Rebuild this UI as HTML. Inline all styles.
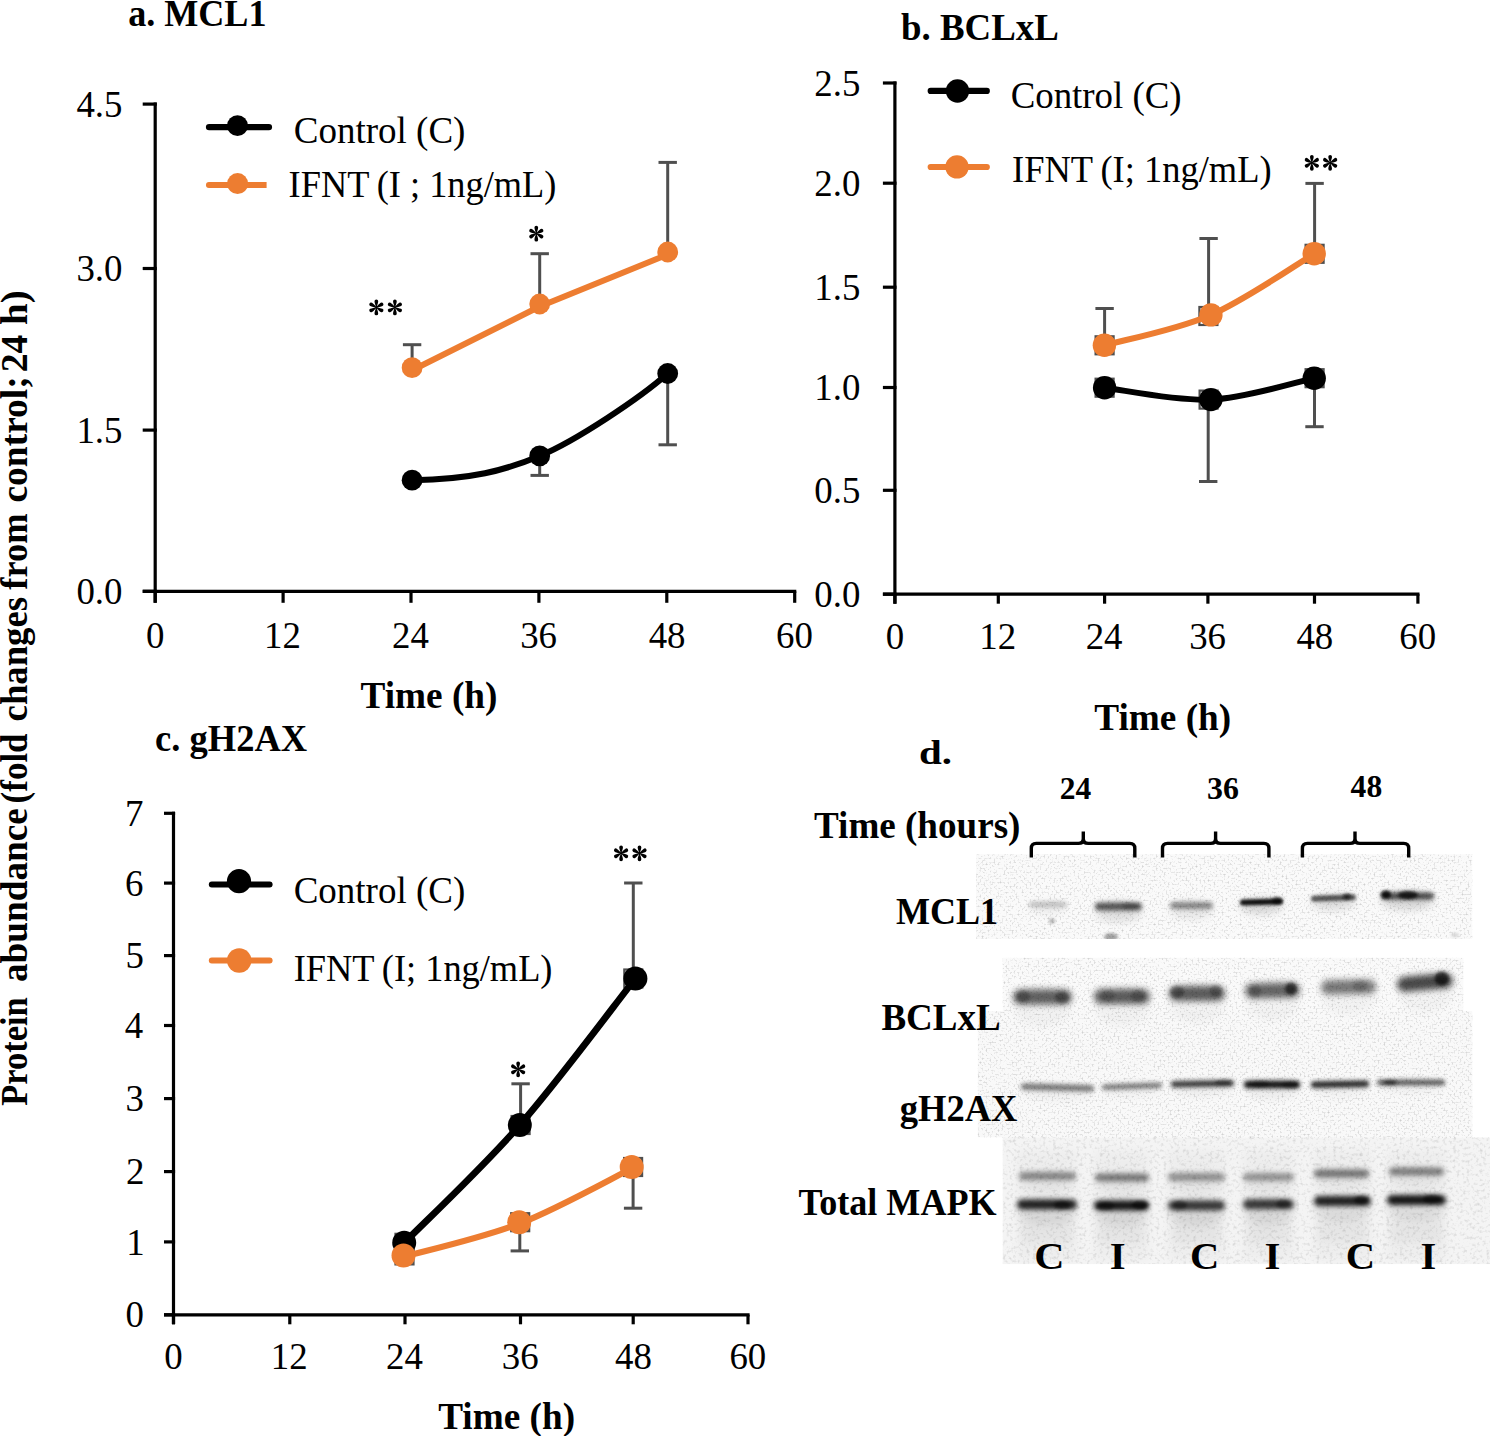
<!DOCTYPE html>
<html><head><meta charset="utf-8"><style>
html,body{margin:0;padding:0;background:#fff;}
svg{display:block;}
text{font-family:"Liberation Serif",serif;}
</style></head><body>
<svg width="1490" height="1436" viewBox="0 0 1490 1436">
<defs><filter id="nz" x="970" y="850" width="520" height="288" filterUnits="userSpaceOnUse"><feTurbulence type="fractalNoise" baseFrequency="0.5" numOctaves="2" seed="7"/><feColorMatrix type="matrix" values="0 0 0 0 0  0 0 0 0 0  0 0 0 0 0  0.5 0 0 0 -0.25"/></filter><filter id="nz2" x="1000" y="1137" width="490" height="130" filterUnits="userSpaceOnUse"><feTurbulence type="fractalNoise" baseFrequency="0.3" numOctaves="2" seed="11"/><feColorMatrix type="matrix" values="0 0 0 0 0  0 0 0 0 0  0 0 0 0 0  0.3 0 0 0 -0.15"/></filter><filter id="g10" x="-50%" y="-300%" width="200%" height="700%"><feGaussianBlur stdDeviation="1.0"/></filter><filter id="g12" x="-50%" y="-300%" width="200%" height="700%"><feGaussianBlur stdDeviation="1.2"/></filter><filter id="g14" x="-50%" y="-300%" width="200%" height="700%"><feGaussianBlur stdDeviation="1.4"/></filter><filter id="g15" x="-50%" y="-300%" width="200%" height="700%"><feGaussianBlur stdDeviation="1.5"/></filter><filter id="g16" x="-50%" y="-300%" width="200%" height="700%"><feGaussianBlur stdDeviation="1.6"/></filter><filter id="g18" x="-50%" y="-300%" width="200%" height="700%"><feGaussianBlur stdDeviation="1.8"/></filter><filter id="g20" x="-50%" y="-300%" width="200%" height="700%"><feGaussianBlur stdDeviation="2.0"/></filter><filter id="g22" x="-50%" y="-300%" width="200%" height="700%"><feGaussianBlur stdDeviation="2.2"/></filter><filter id="g24" x="-50%" y="-300%" width="200%" height="700%"><feGaussianBlur stdDeviation="2.4"/></filter><filter id="g26" x="-50%" y="-300%" width="200%" height="700%"><feGaussianBlur stdDeviation="2.6"/></filter><filter id="g28" x="-50%" y="-300%" width="200%" height="700%"><feGaussianBlur stdDeviation="2.8"/></filter><filter id="g30" x="-50%" y="-300%" width="200%" height="700%"><feGaussianBlur stdDeviation="3.0"/></filter><filter id="g33" x="-50%" y="-300%" width="200%" height="700%"><feGaussianBlur stdDeviation="3.3"/></filter><filter id="g40" x="-50%" y="-300%" width="200%" height="700%"><feGaussianBlur stdDeviation="4.0"/></filter><filter id="g50" x="-50%" y="-300%" width="200%" height="700%"><feGaussianBlur stdDeviation="5.0"/></filter></defs>
<rect width="1490" height="1436" fill="#fff"/>
<g id="blot"><rect x="976" y="854.2" width="496.3" height="84.7" fill="#fafafa"/><rect x="1002.7" y="957.8" width="460.7" height="55.1" fill="#fafafa"/><rect x="977.8" y="1011.1" width="494.5" height="126.3" fill="#f9f9f9"/><rect x="1002.7" y="1137.5" width="487.3" height="126.6" fill="#f4f4f4"/><clipPath id="blotclip"><rect x="976" y="854.2" width="496.3" height="84.7"/><rect x="1002.7" y="957.8" width="460.7" height="55.1"/><rect x="977.8" y="1011.1" width="494.5" height="126.3"/><rect x="1002.7" y="1137.5" width="487.3" height="126.6"/></clipPath><g clip-path="url(#blotclip)"><rect x="1017" y="1150" width="60" height="110" fill="#000" opacity="0.025" filter="url(#g50)"/><rect x="1021" y="1215" width="52" height="28" fill="#000" opacity="0.03" filter="url(#g40)"/><rect x="1094" y="1150" width="55" height="110" fill="#000" opacity="0.025" filter="url(#g50)"/><rect x="1098" y="1215" width="47" height="28" fill="#000" opacity="0.03" filter="url(#g40)"/><rect x="1168" y="1150" width="57" height="110" fill="#000" opacity="0.025" filter="url(#g50)"/><rect x="1172" y="1215" width="49" height="28" fill="#000" opacity="0.03" filter="url(#g40)"/><rect x="1243" y="1150" width="51" height="110" fill="#000" opacity="0.025" filter="url(#g50)"/><rect x="1247" y="1215" width="43" height="28" fill="#000" opacity="0.03" filter="url(#g40)"/><rect x="1314" y="1150" width="57" height="110" fill="#000" opacity="0.025" filter="url(#g50)"/><rect x="1318" y="1215" width="49" height="28" fill="#000" opacity="0.03" filter="url(#g40)"/><rect x="1387" y="1150" width="59" height="110" fill="#000" opacity="0.025" filter="url(#g50)"/><rect x="1391" y="1215" width="51" height="28" fill="#000" opacity="0.03" filter="url(#g40)"/><g><ellipse cx="1048.0" cy="907.6" rx="19.0" ry="6.8" fill="#000" opacity="0.05" filter="url(#g40)"/><rect x="1029.0" y="902.0" width="38.0" height="5.0" rx="2.5" fill="#000" opacity="0.22" filter="url(#g20)"/></g><g><ellipse cx="1118.5" cy="911.5" rx="23.5" ry="10.8" fill="#000" opacity="0.1" filter="url(#g40)"/><rect x="1095.0" y="902.5" width="47.0" height="8.0" rx="4.0" fill="#000" opacity="0.62" filter="url(#g20)"/><ellipse cx="1130.0" cy="906.0" rx="8" ry="3" fill="#000" opacity="0.2" filter="url(#g15)"/></g><g><ellipse cx="1191.5" cy="909.9" rx="21.5" ry="9.4" fill="#000" opacity="0.08" filter="url(#g40)"/><rect x="1170.0" y="902.0" width="43.0" height="7.0" rx="3.5" fill="#000" opacity="0.42" filter="url(#g20)"/></g><g transform="rotate(-1.5 1261.5 902.0)"><ellipse cx="1261.5" cy="905.8" rx="21.5" ry="8.1" fill="#000" opacity="0.14" filter="url(#g40)"/><rect x="1240.0" y="899.0" width="43.0" height="6.0" rx="3.0" fill="#000" opacity="0.92" filter="url(#g16)"/><ellipse cx="1277.0" cy="901.0" rx="5" ry="3.5" fill="#000" opacity="0.6" filter="url(#g15)"/></g><g transform="rotate(-2 1333.5 898.0)"><ellipse cx="1333.5" cy="901.8" rx="22.5" ry="8.1" fill="#000" opacity="0.12" filter="url(#g40)"/><rect x="1311.0" y="895.0" width="45.0" height="6.0" rx="3.0" fill="#000" opacity="0.62" filter="url(#g18)"/><ellipse cx="1347.0" cy="897.0" rx="4" ry="3" fill="#000" opacity="0.6" filter="url(#g15)"/></g><g><ellipse cx="1407.5" cy="900.4" rx="26.5" ry="9.4" fill="#000" opacity="0.14" filter="url(#g40)"/><rect x="1381.0" y="892.5" width="53.0" height="7.0" rx="3.5" fill="#000" opacity="0.68" filter="url(#g20)"/><ellipse cx="1386.0" cy="894.5" rx="5" ry="4" fill="#000" opacity="0.85" filter="url(#g15)"/><ellipse cx="1408.0" cy="895.0" rx="10" ry="4" fill="#000" opacity="0.75" filter="url(#g15)"/></g><g><ellipse cx="1042.5" cy="1006.5" rx="29.5" ry="20.2" fill="#000" opacity="0.03" filter="url(#g40)"/><rect x="1013.0" y="989.5" width="59.0" height="15.0" rx="7.5" fill="#000" opacity="0.6" filter="url(#g33)"/><ellipse cx="1023.0" cy="996.5" rx="7" ry="6" fill="#000" opacity="0.25" filter="url(#g15)"/><ellipse cx="1062.0" cy="997.5" rx="7" ry="6" fill="#000" opacity="0.3" filter="url(#g15)"/></g><g><ellipse cx="1122.0" cy="1006.0" rx="28.0" ry="20.2" fill="#000" opacity="0.03" filter="url(#g40)"/><rect x="1094.0" y="989.0" width="56.0" height="15.0" rx="7.5" fill="#000" opacity="0.62" filter="url(#g33)"/><ellipse cx="1108.0" cy="996.0" rx="7" ry="6" fill="#000" opacity="0.15" filter="url(#g15)"/><ellipse cx="1138.0" cy="996.0" rx="7" ry="6" fill="#000" opacity="0.2" filter="url(#g15)"/></g><g><ellipse cx="1197.0" cy="1003.0" rx="28.0" ry="20.2" fill="#000" opacity="0.03" filter="url(#g40)"/><rect x="1169.0" y="986.0" width="56.0" height="15.0" rx="7.5" fill="#000" opacity="0.62" filter="url(#g33)"/><ellipse cx="1177.0" cy="992.0" rx="7" ry="6" fill="#000" opacity="0.3" filter="url(#g15)"/><ellipse cx="1216.0" cy="991.0" rx="6" ry="6" fill="#000" opacity="0.25" filter="url(#g15)"/></g><g transform="rotate(-1 1272.5 990.5)"><ellipse cx="1272.5" cy="1000.0" rx="27.5" ry="20.2" fill="#000" opacity="0.03" filter="url(#g40)"/><rect x="1245.0" y="983.0" width="55.0" height="15.0" rx="7.5" fill="#000" opacity="0.58" filter="url(#g33)"/><ellipse cx="1291.0" cy="989.0" rx="6" ry="6" fill="#000" opacity="0.6" filter="url(#g15)"/><ellipse cx="1255.0" cy="991.0" rx="6" ry="6" fill="#000" opacity="0.2" filter="url(#g15)"/></g><g transform="rotate(-1 1348.5 987.0)"><ellipse cx="1348.5" cy="995.8" rx="27.5" ry="18.9" fill="#000" opacity="0.03" filter="url(#g40)"/><rect x="1321.0" y="980.0" width="55.0" height="14.0" rx="7.0" fill="#000" opacity="0.5" filter="url(#g33)"/><ellipse cx="1360.0" cy="986.0" rx="7" ry="6" fill="#000" opacity="0.15" filter="url(#g15)"/></g><g transform="rotate(-5 1425.0 982.5)"><ellipse cx="1425.0" cy="992.0" rx="28.0" ry="20.2" fill="#000" opacity="0.03" filter="url(#g40)"/><rect x="1397.0" y="975.0" width="56.0" height="15.0" rx="7.5" fill="#000" opacity="0.7" filter="url(#g33)"/><ellipse cx="1442.0" cy="980.0" rx="7" ry="7" fill="#000" opacity="0.65" filter="url(#g15)"/></g><g transform="rotate(1.5 1057.5 1087.5)"><ellipse cx="1057.5" cy="1091.6" rx="36.5" ry="8.8" fill="#000" opacity="0.04" filter="url(#g40)"/><rect x="1021.0" y="1084.2" width="73.0" height="6.5" rx="3.2" fill="#000" opacity="0.5" filter="url(#g22)"/></g><g transform="rotate(-2 1132.0 1086.2)"><ellipse cx="1132.0" cy="1089.7" rx="30.0" ry="7.4" fill="#000" opacity="0.04" filter="url(#g40)"/><rect x="1102.0" y="1083.5" width="60.0" height="5.5" rx="2.8" fill="#000" opacity="0.5" filter="url(#g22)"/></g><g transform="rotate(-1 1202.5 1083.8)"><ellipse cx="1202.5" cy="1087.6" rx="31.5" ry="8.1" fill="#000" opacity="0.05" filter="url(#g40)"/><rect x="1171.0" y="1080.8" width="63.0" height="6.0" rx="3.0" fill="#000" opacity="0.8" filter="url(#g20)"/><ellipse cx="1223.0" cy="1083.0" rx="8" ry="2.5" fill="#000" opacity="0.35" filter="url(#g15)"/></g><g><ellipse cx="1272.0" cy="1089.2" rx="28.0" ry="10.1" fill="#000" opacity="0.05" filter="url(#g40)"/><rect x="1244.0" y="1080.8" width="56.0" height="7.5" rx="3.8" fill="#000" opacity="0.92" filter="url(#g20)"/><ellipse cx="1260.0" cy="1084.0" rx="9" ry="3" fill="#000" opacity="0.3" filter="url(#g15)"/><ellipse cx="1290.0" cy="1085.0" rx="8" ry="3" fill="#000" opacity="0.3" filter="url(#g15)"/></g><g transform="rotate(-1 1340.0 1084.2)"><ellipse cx="1340.0" cy="1088.3" rx="29.0" ry="8.8" fill="#000" opacity="0.04" filter="url(#g40)"/><rect x="1311.0" y="1081.0" width="58.0" height="6.5" rx="3.2" fill="#000" opacity="0.85" filter="url(#g20)"/></g><g><ellipse cx="1411.0" cy="1086.0" rx="34.0" ry="7.4" fill="#000" opacity="0.04" filter="url(#g40)"/><rect x="1377.0" y="1079.8" width="68.0" height="5.5" rx="2.8" fill="#000" opacity="0.65" filter="url(#g20)"/><ellipse cx="1390.0" cy="1082.5" rx="7" ry="2.5" fill="#000" opacity="0.5" filter="url(#g15)"/></g><g><ellipse cx="1047.5" cy="1181.0" rx="28.5" ry="10.8" fill="#000" opacity="0.04" filter="url(#g40)"/><rect x="1019.0" y="1172.0" width="57.0" height="8.0" rx="4.0" fill="#000" opacity="0.42" filter="url(#g26)"/></g><g><ellipse cx="1122.0" cy="1182.6" rx="27.0" ry="10.8" fill="#000" opacity="0.04" filter="url(#g40)"/><rect x="1095.0" y="1173.6" width="54.0" height="8.0" rx="4.0" fill="#000" opacity="0.48" filter="url(#g26)"/></g><g><ellipse cx="1196.5" cy="1182.0" rx="28.5" ry="10.8" fill="#000" opacity="0.04" filter="url(#g40)"/><rect x="1168.0" y="1173.0" width="57.0" height="8.0" rx="4.0" fill="#000" opacity="0.38" filter="url(#g26)"/></g><g><ellipse cx="1268.5" cy="1182.0" rx="25.5" ry="10.8" fill="#000" opacity="0.04" filter="url(#g40)"/><rect x="1243.0" y="1173.0" width="51.0" height="8.0" rx="4.0" fill="#000" opacity="0.36" filter="url(#g26)"/></g><g><ellipse cx="1341.5" cy="1178.4" rx="27.5" ry="10.8" fill="#000" opacity="0.04" filter="url(#g40)"/><rect x="1314.0" y="1169.4" width="55.0" height="8.0" rx="4.0" fill="#000" opacity="0.5" filter="url(#g26)"/></g><g><ellipse cx="1416.5" cy="1176.6" rx="27.5" ry="10.8" fill="#000" opacity="0.04" filter="url(#g40)"/><rect x="1389.0" y="1167.6" width="55.0" height="8.0" rx="4.0" fill="#000" opacity="0.46" filter="url(#g26)"/></g><g><ellipse cx="1047.0" cy="1210.8" rx="30.0" ry="13.5" fill="#000" opacity="0.07" filter="url(#g40)"/><rect x="1017.0" y="1199.5" width="60.0" height="10.0" rx="5.0" fill="#000" opacity="0.85" filter="url(#g26)"/><ellipse cx="1062.0" cy="1205.0" rx="8" ry="4" fill="#000" opacity="0.5" filter="url(#g15)"/></g><g><ellipse cx="1121.5" cy="1211.7" rx="27.5" ry="13.5" fill="#000" opacity="0.07" filter="url(#g40)"/><rect x="1094.0" y="1200.4" width="55.0" height="10.0" rx="5.0" fill="#000" opacity="0.9" filter="url(#g26)"/><ellipse cx="1106.0" cy="1206.0" rx="8" ry="4" fill="#000" opacity="0.4" filter="url(#g15)"/><ellipse cx="1140.0" cy="1205.0" rx="8" ry="4" fill="#000" opacity="0.5" filter="url(#g15)"/></g><g><ellipse cx="1196.5" cy="1211.7" rx="28.5" ry="13.5" fill="#000" opacity="0.07" filter="url(#g40)"/><rect x="1168.0" y="1200.4" width="57.0" height="10.0" rx="5.0" fill="#000" opacity="0.75" filter="url(#g26)"/><ellipse cx="1180.0" cy="1205.0" rx="7" ry="4" fill="#000" opacity="0.4" filter="url(#g15)"/></g><g><ellipse cx="1268.5" cy="1210.6" rx="25.5" ry="13.5" fill="#000" opacity="0.07" filter="url(#g40)"/><rect x="1243.0" y="1199.3" width="51.0" height="10.0" rx="5.0" fill="#000" opacity="0.75" filter="url(#g26)"/><ellipse cx="1283.0" cy="1204.0" rx="7" ry="4" fill="#000" opacity="0.4" filter="url(#g15)"/></g><g><ellipse cx="1342.5" cy="1207.4" rx="28.5" ry="13.5" fill="#000" opacity="0.07" filter="url(#g40)"/><rect x="1314.0" y="1196.1" width="57.0" height="10.0" rx="5.0" fill="#000" opacity="0.85" filter="url(#g26)"/><ellipse cx="1361.0" cy="1200.0" rx="7" ry="4" fill="#000" opacity="0.5" filter="url(#g15)"/></g><g><ellipse cx="1416.5" cy="1206.3" rx="29.5" ry="13.5" fill="#000" opacity="0.07" filter="url(#g40)"/><rect x="1387.0" y="1195.0" width="59.0" height="10.0" rx="5.0" fill="#000" opacity="0.9" filter="url(#g26)"/><ellipse cx="1432.0" cy="1199.0" rx="9" ry="4" fill="#000" opacity="0.5" filter="url(#g15)"/></g><ellipse cx="1052" cy="921" rx="3" ry="2.5" fill="#000" opacity="0.3" filter="url(#g15)"/><ellipse cx="1111" cy="937" rx="7" ry="4" fill="#000" opacity="0.35" filter="url(#g15)"/><ellipse cx="1455" cy="935" rx="4" ry="2" fill="#000" opacity="0.15" filter="url(#g15)"/><rect x="970" y="850" width="520" height="288" fill="#000" filter="url(#nz)"/><rect x="1000" y="1137" width="490" height="130" fill="#000" filter="url(#nz2)"/></g><path d="M1031.3,857.5 L1031.3,848.4 Q1031.3,843.4 1036.3,843.4 L1078.3,843.4 Q1083.3,843.4 1083.3,838.4 L1083.3,831.5 M1083.3,838.4 Q1083.3,843.4 1088.3,843.4 L1129.8,843.4 Q1134.8,843.4 1134.8,848.4 L1134.8,857.5" fill="none" stroke="#000" stroke-width="3.4"/><path d="M1162.5,857.5 L1162.5,848.4 Q1162.5,843.4 1167.5,843.4 L1210.6,843.4 Q1215.6,843.4 1215.6,838.4 L1215.6,831.5 M1215.6,838.4 Q1215.6,843.4 1220.6,843.4 L1263.9,843.4 Q1268.9,843.4 1268.9,848.4 L1268.9,857.5" fill="none" stroke="#000" stroke-width="3.4"/><path d="M1302.4,857.5 L1302.4,848.4 Q1302.4,843.4 1307.4,843.4 L1350.0,843.4 Q1355.0,843.4 1355.0,838.4 L1355.0,831.5 M1355.0,838.4 Q1355.0,843.4 1360.0,843.4 L1403.7,843.4 Q1408.7,843.4 1408.7,848.4 L1408.7,857.5" fill="none" stroke="#000" stroke-width="3.4"/></g>
<g id="charts"><line x1="155.20" y1="102.50" x2="155.20" y2="602.80" stroke="#000" stroke-width="3.2" stroke-linecap="butt"/><line x1="142.70" y1="104.10" x2="156.80" y2="104.10" stroke="#000" stroke-width="3.2" stroke-linecap="butt"/><line x1="142.70" y1="268.50" x2="156.80" y2="268.50" stroke="#000" stroke-width="3.2" stroke-linecap="butt"/><line x1="142.70" y1="430.10" x2="156.80" y2="430.10" stroke="#000" stroke-width="3.2" stroke-linecap="butt"/><line x1="142.70" y1="591.30" x2="156.80" y2="591.30" stroke="#000" stroke-width="3.2" stroke-linecap="butt"/><line x1="142.70" y1="591.30" x2="796.30" y2="591.30" stroke="#000" stroke-width="3.2" stroke-linecap="butt"/><line x1="155.20" y1="591.30" x2="155.20" y2="602.80" stroke="#000" stroke-width="3.2" stroke-linecap="butt"/><line x1="283.10" y1="591.30" x2="283.10" y2="602.80" stroke="#000" stroke-width="3.2" stroke-linecap="butt"/><line x1="411.00" y1="591.30" x2="411.00" y2="602.80" stroke="#000" stroke-width="3.2" stroke-linecap="butt"/><line x1="538.90" y1="591.30" x2="538.90" y2="602.80" stroke="#000" stroke-width="3.2" stroke-linecap="butt"/><line x1="666.80" y1="591.30" x2="666.80" y2="602.80" stroke="#000" stroke-width="3.2" stroke-linecap="butt"/><line x1="794.70" y1="591.30" x2="794.70" y2="602.80" stroke="#000" stroke-width="3.2" stroke-linecap="butt"/><line x1="894.90" y1="81.40" x2="894.90" y2="603.70" stroke="#000" stroke-width="3.2" stroke-linecap="butt"/><line x1="882.90" y1="83.00" x2="896.50" y2="83.00" stroke="#000" stroke-width="3.2" stroke-linecap="butt"/><line x1="882.90" y1="183.20" x2="896.50" y2="183.20" stroke="#000" stroke-width="3.2" stroke-linecap="butt"/><line x1="882.90" y1="287.20" x2="896.50" y2="287.20" stroke="#000" stroke-width="3.2" stroke-linecap="butt"/><line x1="882.90" y1="387.50" x2="896.50" y2="387.50" stroke="#000" stroke-width="3.2" stroke-linecap="butt"/><line x1="882.90" y1="490.30" x2="896.50" y2="490.30" stroke="#000" stroke-width="3.2" stroke-linecap="butt"/><line x1="882.90" y1="594.20" x2="896.50" y2="594.20" stroke="#000" stroke-width="3.2" stroke-linecap="butt"/><line x1="882.90" y1="594.20" x2="1419.50" y2="594.20" stroke="#000" stroke-width="3.2" stroke-linecap="butt"/><line x1="894.90" y1="594.20" x2="894.90" y2="603.70" stroke="#000" stroke-width="3.2" stroke-linecap="butt"/><line x1="998.30" y1="594.20" x2="998.30" y2="603.70" stroke="#000" stroke-width="3.2" stroke-linecap="butt"/><line x1="1104.60" y1="594.20" x2="1104.60" y2="603.70" stroke="#000" stroke-width="3.2" stroke-linecap="butt"/><line x1="1207.90" y1="594.20" x2="1207.90" y2="603.70" stroke="#000" stroke-width="3.2" stroke-linecap="butt"/><line x1="1314.50" y1="594.20" x2="1314.50" y2="603.70" stroke="#000" stroke-width="3.2" stroke-linecap="butt"/><line x1="1417.90" y1="594.20" x2="1417.90" y2="603.70" stroke="#000" stroke-width="3.2" stroke-linecap="butt"/><line x1="173.50" y1="811.70" x2="173.50" y2="1324.30" stroke="#000" stroke-width="3.2" stroke-linecap="butt"/><line x1="164.00" y1="813.30" x2="175.10" y2="813.30" stroke="#000" stroke-width="3.2" stroke-linecap="butt"/><line x1="164.00" y1="883.10" x2="175.10" y2="883.10" stroke="#000" stroke-width="3.2" stroke-linecap="butt"/><line x1="164.00" y1="955.60" x2="175.10" y2="955.60" stroke="#000" stroke-width="3.2" stroke-linecap="butt"/><line x1="164.00" y1="1025.50" x2="175.10" y2="1025.50" stroke="#000" stroke-width="3.2" stroke-linecap="butt"/><line x1="164.00" y1="1098.60" x2="175.10" y2="1098.60" stroke="#000" stroke-width="3.2" stroke-linecap="butt"/><line x1="164.00" y1="1171.60" x2="175.10" y2="1171.60" stroke="#000" stroke-width="3.2" stroke-linecap="butt"/><line x1="164.00" y1="1241.90" x2="175.10" y2="1241.90" stroke="#000" stroke-width="3.2" stroke-linecap="butt"/><line x1="164.00" y1="1314.80" x2="175.10" y2="1314.80" stroke="#000" stroke-width="3.2" stroke-linecap="butt"/><line x1="164.00" y1="1314.80" x2="749.60" y2="1314.80" stroke="#000" stroke-width="3.2" stroke-linecap="butt"/><line x1="173.50" y1="1314.80" x2="173.50" y2="1324.30" stroke="#000" stroke-width="3.2" stroke-linecap="butt"/><line x1="289.80" y1="1314.80" x2="289.80" y2="1324.30" stroke="#000" stroke-width="3.2" stroke-linecap="butt"/><line x1="405.00" y1="1314.80" x2="405.00" y2="1324.30" stroke="#000" stroke-width="3.2" stroke-linecap="butt"/><line x1="520.50" y1="1314.80" x2="520.50" y2="1324.30" stroke="#000" stroke-width="3.2" stroke-linecap="butt"/><line x1="633.20" y1="1314.80" x2="633.20" y2="1324.30" stroke="#000" stroke-width="3.2" stroke-linecap="butt"/><line x1="748.00" y1="1314.80" x2="748.00" y2="1324.30" stroke="#000" stroke-width="3.2" stroke-linecap="butt"/><line x1="539.70" y1="455.90" x2="539.70" y2="475.40" stroke="#4f4f4f" stroke-width="3.0"/><line x1="530.50" y1="475.40" x2="548.90" y2="475.40" stroke="#4f4f4f" stroke-width="3.0"/><line x1="667.70" y1="373.50" x2="667.70" y2="444.80" stroke="#4f4f4f" stroke-width="3.0"/><line x1="658.50" y1="444.80" x2="676.90" y2="444.80" stroke="#4f4f4f" stroke-width="3.0"/><line x1="412.10" y1="367.70" x2="412.10" y2="344.70" stroke="#4f4f4f" stroke-width="3.0"/><line x1="402.90" y1="344.70" x2="421.30" y2="344.70" stroke="#4f4f4f" stroke-width="3.0"/><line x1="539.70" y1="304.00" x2="539.70" y2="253.70" stroke="#4f4f4f" stroke-width="3.0"/><line x1="530.50" y1="253.70" x2="548.90" y2="253.70" stroke="#4f4f4f" stroke-width="3.0"/><line x1="667.70" y1="252.00" x2="667.70" y2="162.40" stroke="#4f4f4f" stroke-width="3.0"/><line x1="658.50" y1="162.40" x2="676.90" y2="162.40" stroke="#4f4f4f" stroke-width="3.0"/><path d="M412.1,480.2 C472.1,479.2 503.9,470.8 539.7,455.9 C576.0,440.8 640.0,398.0 667.7,373.5" fill="none" stroke="#000" stroke-width="6.0" stroke-linecap="round"/><circle cx="412.1" cy="480.2" r="10.4" fill="#000"/><circle cx="539.7" cy="455.9" r="10.4" fill="#000"/><circle cx="667.7" cy="373.5" r="10.4" fill="#000"/><path d="M412.10,370.20 L539.70,306.50 L667.70,254.50" fill="none" stroke="#ED7D31" stroke-width="6.0" stroke-linejoin="round" stroke-linecap="round"/><circle cx="412.10" cy="367.70" r="10.4" fill="#ED7D31"/><circle cx="539.70" cy="304.00" r="10.4" fill="#ED7D31"/><circle cx="667.70" cy="252.00" r="10.4" fill="#ED7D31"/><line x1="209.10" y1="127.10" x2="268.90" y2="127.10" stroke="#000" stroke-width="6.4" stroke-linecap="round"/><circle cx="237.50" cy="125.70" r="10.4" fill="#000"/><line x1="208.9" y1="185.0" x2="266.6" y2="185.0" stroke="#ED7D31" stroke-width="5.9"/><circle cx="208.9" cy="185.0" r="2.95" fill="#ED7D31"/><circle cx="237.6" cy="183.6" r="10.5" fill="#ED7D31"/><rect x="1095.60" y="378.70" width="18" height="18" fill="none" stroke="#4f4f4f" stroke-width="2.2"/><rect x="1199.60" y="390.60" width="18" height="18" fill="none" stroke="#4f4f4f" stroke-width="2.2"/><rect x="1305.60" y="369.20" width="18" height="18" fill="none" stroke="#4f4f4f" stroke-width="2.2"/><rect x="1095.60" y="336.30" width="18" height="18" fill="none" stroke="#4f4f4f" stroke-width="2.2"/><rect x="1199.40" y="307.00" width="18" height="18" fill="none" stroke="#4f4f4f" stroke-width="2.2"/><rect x="1305.60" y="244.80" width="18" height="18" fill="none" stroke="#4f4f4f" stroke-width="2.2"/><line x1="1208.20" y1="399.60" x2="1208.20" y2="481.50" stroke="#4f4f4f" stroke-width="3.0"/><line x1="1199.00" y1="481.50" x2="1217.40" y2="481.50" stroke="#4f4f4f" stroke-width="3.0"/><line x1="1314.50" y1="378.20" x2="1314.50" y2="426.70" stroke="#4f4f4f" stroke-width="3.0"/><line x1="1305.30" y1="426.70" x2="1323.70" y2="426.70" stroke="#4f4f4f" stroke-width="3.0"/><line x1="1104.60" y1="345.30" x2="1104.60" y2="308.50" stroke="#4f4f4f" stroke-width="3.0"/><line x1="1095.40" y1="308.50" x2="1113.80" y2="308.50" stroke="#4f4f4f" stroke-width="3.0"/><line x1="1208.60" y1="314.90" x2="1208.60" y2="238.50" stroke="#4f4f4f" stroke-width="3.0"/><line x1="1199.40" y1="238.50" x2="1217.80" y2="238.50" stroke="#4f4f4f" stroke-width="3.0"/><line x1="1314.60" y1="253.80" x2="1314.60" y2="183.40" stroke="#4f4f4f" stroke-width="3.0"/><line x1="1305.40" y1="183.40" x2="1323.80" y2="183.40" stroke="#4f4f4f" stroke-width="3.0"/><path d="M1104.60,387.70 C1122.32,389.68 1175.97,401.18 1210.90,399.60 C1245.83,398.02 1296.98,381.77 1314.20,378.20" fill="none" stroke="#000" stroke-width="6.0" stroke-linejoin="round" stroke-linecap="round"/><circle cx="1104.60" cy="387.70" r="11.7" fill="#000"/><circle cx="1210.90" cy="399.60" r="11.7" fill="#000"/><circle cx="1314.20" cy="378.20" r="11.7" fill="#000"/><path d="M1104.40,345.30 C1122.15,340.23 1175.93,330.15 1210.90,314.90 C1245.87,299.65 1296.98,263.98 1314.20,253.80" fill="none" stroke="#ED7D31" stroke-width="6.0" stroke-linejoin="round" stroke-linecap="round"/><circle cx="1104.40" cy="345.30" r="11.7" fill="#ED7D31"/><circle cx="1210.90" cy="314.90" r="11.7" fill="#ED7D31"/><circle cx="1314.20" cy="253.80" r="11.7" fill="#ED7D31"/><line x1="930.70" y1="90.90" x2="986.80" y2="90.90" stroke="#000" stroke-width="6.2" stroke-linecap="round"/><circle cx="957.50" cy="91.00" r="11.7" fill="#000"/><line x1="930.70" y1="167.00" x2="986.80" y2="167.00" stroke="#ED7D31" stroke-width="6.2" stroke-linecap="round"/><circle cx="957.00" cy="166.90" r="11.7" fill="#ED7D31"/><rect x="395.50" y="1233.80" width="18" height="18" fill="none" stroke="#4f4f4f" stroke-width="2.2"/><rect x="511.60" y="1116.00" width="18" height="18" fill="none" stroke="#4f4f4f" stroke-width="2.2"/><rect x="624.30" y="969.50" width="18" height="18" fill="none" stroke="#4f4f4f" stroke-width="2.2"/><rect x="395.50" y="1246.40" width="18" height="18" fill="none" stroke="#4f4f4f" stroke-width="2.2"/><rect x="511.20" y="1213.20" width="18" height="18" fill="none" stroke="#4f4f4f" stroke-width="2.2"/><rect x="624.10" y="1158.00" width="18" height="18" fill="none" stroke="#4f4f4f" stroke-width="2.2"/><line x1="520.60" y1="1125.00" x2="520.60" y2="1083.80" stroke="#4f4f4f" stroke-width="3.0"/><line x1="511.40" y1="1083.80" x2="529.80" y2="1083.80" stroke="#4f4f4f" stroke-width="3.0"/><line x1="633.30" y1="978.50" x2="633.30" y2="883.00" stroke="#4f4f4f" stroke-width="3.0"/><line x1="624.10" y1="883.00" x2="642.50" y2="883.00" stroke="#4f4f4f" stroke-width="3.0"/><line x1="519.80" y1="1222.20" x2="519.80" y2="1250.90" stroke="#4f4f4f" stroke-width="3.0"/><line x1="510.60" y1="1250.90" x2="529.00" y2="1250.90" stroke="#4f4f4f" stroke-width="3.0"/><line x1="633.10" y1="1167.00" x2="633.10" y2="1208.20" stroke="#4f4f4f" stroke-width="3.0"/><line x1="623.90" y1="1208.20" x2="642.30" y2="1208.20" stroke="#4f4f4f" stroke-width="3.0"/><path d="M404.20,1242.80 C423.47,1223.17 481.27,1169.05 519.80,1125.00 C558.33,1080.95 616.13,1002.92 635.40,978.50" fill="none" stroke="#000" stroke-width="6.8" stroke-linejoin="round" stroke-linecap="round"/><circle cx="404.20" cy="1242.80" r="12.0" fill="#000"/><circle cx="519.80" cy="1125.00" r="12.0" fill="#000"/><circle cx="635.40" cy="978.50" r="12.0" fill="#000"/><path d="M403.50,1256.90 C422.78,1251.37 481.17,1238.43 519.20,1223.70 C557.23,1208.97 612.95,1177.70 631.70,1168.50" fill="none" stroke="#ED7D31" stroke-width="6.2" stroke-linejoin="round" stroke-linecap="round"/><circle cx="403.50" cy="1255.40" r="12.0" fill="#ED7D31"/><circle cx="519.20" cy="1222.20" r="12.0" fill="#ED7D31"/><circle cx="631.70" cy="1167.00" r="12.0" fill="#ED7D31"/><line x1="211.80" y1="884.60" x2="269.60" y2="884.60" stroke="#000" stroke-width="6.0" stroke-linecap="round"/><circle cx="239.00" cy="881.20" r="12.1" fill="#000"/><line x1="211.80" y1="960.60" x2="269.60" y2="960.60" stroke="#ED7D31" stroke-width="6.0" stroke-linecap="round"/><circle cx="239.20" cy="960.50" r="12.2" fill="#ED7D31"/></g>
<g id="texts"><text x="128.13" y="25.90" font-weight="bold" font-size="38.70" textLength="138.38" lengthAdjust="spacingAndGlyphs" fill="#000">a. MCL1</text><text x="901.02" y="40.10" font-weight="bold" font-size="38.70" textLength="157.77" lengthAdjust="spacingAndGlyphs" fill="#000">b. BCLxL</text><text x="155.12" y="750.50" font-weight="bold" font-size="38.70" textLength="151.99" lengthAdjust="spacingAndGlyphs" fill="#000">c. gH2AX</text><text x="360.52" y="707.50" font-weight="bold" font-size="38.70" textLength="136.94" lengthAdjust="spacingAndGlyphs" fill="#000">Time (h)</text><text x="1094.32" y="730.00" font-weight="bold" font-size="38.70" textLength="136.83" lengthAdjust="spacingAndGlyphs" fill="#000">Time (h)</text><text x="438.22" y="1428.60" font-weight="bold" font-size="38.70" textLength="136.83" lengthAdjust="spacingAndGlyphs" fill="#000">Time (h)</text><text x="293.77" y="143.40" font-weight="normal" font-size="38.70" textLength="171.68" lengthAdjust="spacingAndGlyphs" fill="#000">Control (C)</text><text x="288.59" y="196.60" font-weight="normal" font-size="38.70" textLength="267.83" lengthAdjust="spacingAndGlyphs" fill="#000">IFNT (I ; 1ng/mL)</text><text x="1010.67" y="107.80" font-weight="normal" font-size="38.70" textLength="170.97" lengthAdjust="spacingAndGlyphs" fill="#000">Control (C)</text><text x="1012.09" y="182.40" font-weight="normal" font-size="38.70" textLength="259.51" lengthAdjust="spacingAndGlyphs" fill="#000">IFNT (I; 1ng/mL)</text><text x="293.67" y="902.60" font-weight="normal" font-size="38.70" textLength="171.58" lengthAdjust="spacingAndGlyphs" fill="#000">Control (C)</text><text x="293.69" y="980.50" font-weight="normal" font-size="38.70" textLength="258.80" lengthAdjust="spacingAndGlyphs" fill="#000">IFNT (I; 1ng/mL)</text><text x="918.99" y="764.10" font-weight="bold" font-size="34.00" textLength="33.02" lengthAdjust="spacingAndGlyphs" fill="#000">d.</text><text x="1059.79" y="799.00" font-weight="bold" font-size="32.50" textLength="31.50" lengthAdjust="spacingAndGlyphs" fill="#000">24</text><text x="1207.07" y="799.40" font-weight="bold" font-size="32.50" textLength="31.91" lengthAdjust="spacingAndGlyphs" fill="#000">36</text><text x="1350.61" y="796.90" font-weight="bold" font-size="32.50" textLength="31.56" lengthAdjust="spacingAndGlyphs" fill="#000">48</text><text x="814.02" y="837.90" font-weight="bold" font-size="38.70" textLength="206.40" lengthAdjust="spacingAndGlyphs" fill="#000">Time (hours)</text><text x="895.90" y="924.30" font-weight="bold" font-size="38.70" textLength="102.27" lengthAdjust="spacingAndGlyphs" fill="#000">MCL1</text><text x="881.38" y="1029.50" font-weight="bold" font-size="38.70" textLength="119.35" lengthAdjust="spacingAndGlyphs" fill="#000">BCLxL</text><text x="899.86" y="1120.60" font-weight="bold" font-size="38.70" textLength="117.64" lengthAdjust="spacingAndGlyphs" fill="#000">gH2AX</text><text x="798.43" y="1215.30" font-weight="bold" font-size="38.70" textLength="198.16" lengthAdjust="spacingAndGlyphs" fill="#000">Total MAPK</text><text x="1034.33" y="1269.00" font-weight="bold" font-size="38.70" textLength="30.26" lengthAdjust="spacingAndGlyphs" fill="#000">C</text><text x="1109.88" y="1269.00" font-weight="bold" font-size="38.70" textLength="15.91" lengthAdjust="spacingAndGlyphs" fill="#000">I</text><text x="1189.90" y="1269.00" font-weight="bold" font-size="38.70" textLength="29.29" lengthAdjust="spacingAndGlyphs" fill="#000">C</text><text x="1264.58" y="1269.00" font-weight="bold" font-size="38.70" textLength="15.91" lengthAdjust="spacingAndGlyphs" fill="#000">I</text><text x="1345.70" y="1269.00" font-weight="bold" font-size="38.70" textLength="29.41" lengthAdjust="spacingAndGlyphs" fill="#000">C</text><text x="1420.49" y="1269.00" font-weight="bold" font-size="38.70" textLength="15.79" lengthAdjust="spacingAndGlyphs" fill="#000">I</text><text x="76.45" y="116.70" font-size="38.70" textLength="46.09" lengthAdjust="spacingAndGlyphs">4.5</text><text x="76.45" y="281.10" font-size="38.70" textLength="46.09" lengthAdjust="spacingAndGlyphs">3.0</text><text x="76.45" y="442.70" font-size="38.70" textLength="46.09" lengthAdjust="spacingAndGlyphs">1.5</text><text x="76.45" y="603.90" font-size="38.70" textLength="46.09" lengthAdjust="spacingAndGlyphs">0.0</text><text x="146.03" y="647.60" font-size="38.70" textLength="18.43" lengthAdjust="spacingAndGlyphs">0</text><text x="264.04" y="647.60" font-size="38.70" textLength="36.87" lengthAdjust="spacingAndGlyphs">12</text><text x="392.06" y="647.60" font-size="38.70" textLength="36.87" lengthAdjust="spacingAndGlyphs">24</text><text x="520.20" y="647.60" font-size="38.70" textLength="36.87" lengthAdjust="spacingAndGlyphs">36</text><text x="648.69" y="647.60" font-size="38.70" textLength="36.87" lengthAdjust="spacingAndGlyphs">48</text><text x="776.12" y="647.60" font-size="38.70" textLength="36.87" lengthAdjust="spacingAndGlyphs">60</text><text x="814.25" y="95.60" font-size="38.70" textLength="46.09" lengthAdjust="spacingAndGlyphs">2.5</text><text x="814.25" y="195.80" font-size="38.70" textLength="46.09" lengthAdjust="spacingAndGlyphs">2.0</text><text x="814.25" y="299.80" font-size="38.70" textLength="46.09" lengthAdjust="spacingAndGlyphs">1.5</text><text x="814.25" y="400.10" font-size="38.70" textLength="46.09" lengthAdjust="spacingAndGlyphs">1.0</text><text x="814.25" y="502.90" font-size="38.70" textLength="46.09" lengthAdjust="spacingAndGlyphs">0.5</text><text x="814.25" y="606.80" font-size="38.70" textLength="46.09" lengthAdjust="spacingAndGlyphs">0.0</text><text x="885.73" y="649.20" font-size="38.70" textLength="18.43" lengthAdjust="spacingAndGlyphs">0</text><text x="979.24" y="649.20" font-size="38.70" textLength="36.87" lengthAdjust="spacingAndGlyphs">12</text><text x="1085.66" y="649.20" font-size="38.70" textLength="36.87" lengthAdjust="spacingAndGlyphs">24</text><text x="1189.20" y="649.20" font-size="38.70" textLength="36.87" lengthAdjust="spacingAndGlyphs">36</text><text x="1296.39" y="649.20" font-size="38.70" textLength="36.87" lengthAdjust="spacingAndGlyphs">48</text><text x="1399.32" y="649.20" font-size="38.70" textLength="36.87" lengthAdjust="spacingAndGlyphs">60</text><text x="125.11" y="825.90" font-size="38.70" textLength="18.43" lengthAdjust="spacingAndGlyphs">7</text><text x="125.11" y="895.70" font-size="38.70" textLength="18.43" lengthAdjust="spacingAndGlyphs">6</text><text x="125.58" y="968.20" font-size="38.70" textLength="18.43" lengthAdjust="spacingAndGlyphs">5</text><text x="124.63" y="1038.10" font-size="38.70" textLength="18.43" lengthAdjust="spacingAndGlyphs">4</text><text x="125.58" y="1111.20" font-size="38.70" textLength="18.43" lengthAdjust="spacingAndGlyphs">3</text><text x="126.06" y="1184.20" font-size="38.70" textLength="18.43" lengthAdjust="spacingAndGlyphs">2</text><text x="126.30" y="1254.50" font-size="38.70" textLength="18.43" lengthAdjust="spacingAndGlyphs">1</text><text x="125.58" y="1327.40" font-size="38.70" textLength="18.43" lengthAdjust="spacingAndGlyphs">0</text><text x="164.33" y="1369.10" font-size="38.70" textLength="18.43" lengthAdjust="spacingAndGlyphs">0</text><text x="270.74" y="1369.10" font-size="38.70" textLength="36.87" lengthAdjust="spacingAndGlyphs">12</text><text x="386.06" y="1369.10" font-size="38.70" textLength="36.87" lengthAdjust="spacingAndGlyphs">24</text><text x="501.80" y="1369.10" font-size="38.70" textLength="36.87" lengthAdjust="spacingAndGlyphs">36</text><text x="615.09" y="1369.10" font-size="38.70" textLength="36.87" lengthAdjust="spacingAndGlyphs">48</text><text x="729.42" y="1369.10" font-size="38.70" textLength="36.87" lengthAdjust="spacingAndGlyphs">60</text><g transform="translate(376.35,307.40)"><circle r="1.1"/><path d="M-0.3,0 C-0.6,-1.6 -1.85,-4.3 -1.85,-6.05 A1.85,1.85 0 0 1 1.85,-6.05 C1.85,-4.3 0.6,-1.6 0.3,0 Z" transform="rotate(0)"/><path d="M-0.3,0 C-0.6,-1.6 -1.85,-4.3 -1.85,-6.05 A1.85,1.85 0 0 1 1.85,-6.05 C1.85,-4.3 0.6,-1.6 0.3,0 Z" transform="rotate(60)"/><path d="M-0.3,0 C-0.6,-1.6 -1.85,-4.3 -1.85,-6.05 A1.85,1.85 0 0 1 1.85,-6.05 C1.85,-4.3 0.6,-1.6 0.3,0 Z" transform="rotate(120)"/><path d="M-0.3,0 C-0.6,-1.6 -1.85,-4.3 -1.85,-6.05 A1.85,1.85 0 0 1 1.85,-6.05 C1.85,-4.3 0.6,-1.6 0.3,0 Z" transform="rotate(180)"/><path d="M-0.3,0 C-0.6,-1.6 -1.85,-4.3 -1.85,-6.05 A1.85,1.85 0 0 1 1.85,-6.05 C1.85,-4.3 0.6,-1.6 0.3,0 Z" transform="rotate(240)"/><path d="M-0.3,0 C-0.6,-1.6 -1.85,-4.3 -1.85,-6.05 A1.85,1.85 0 0 1 1.85,-6.05 C1.85,-4.3 0.6,-1.6 0.3,0 Z" transform="rotate(300)"/></g><g transform="translate(394.90,307.40)"><circle r="1.1"/><path d="M-0.3,0 C-0.6,-1.6 -1.85,-4.3 -1.85,-6.05 A1.85,1.85 0 0 1 1.85,-6.05 C1.85,-4.3 0.6,-1.6 0.3,0 Z" transform="rotate(0)"/><path d="M-0.3,0 C-0.6,-1.6 -1.85,-4.3 -1.85,-6.05 A1.85,1.85 0 0 1 1.85,-6.05 C1.85,-4.3 0.6,-1.6 0.3,0 Z" transform="rotate(60)"/><path d="M-0.3,0 C-0.6,-1.6 -1.85,-4.3 -1.85,-6.05 A1.85,1.85 0 0 1 1.85,-6.05 C1.85,-4.3 0.6,-1.6 0.3,0 Z" transform="rotate(120)"/><path d="M-0.3,0 C-0.6,-1.6 -1.85,-4.3 -1.85,-6.05 A1.85,1.85 0 0 1 1.85,-6.05 C1.85,-4.3 0.6,-1.6 0.3,0 Z" transform="rotate(180)"/><path d="M-0.3,0 C-0.6,-1.6 -1.85,-4.3 -1.85,-6.05 A1.85,1.85 0 0 1 1.85,-6.05 C1.85,-4.3 0.6,-1.6 0.3,0 Z" transform="rotate(240)"/><path d="M-0.3,0 C-0.6,-1.6 -1.85,-4.3 -1.85,-6.05 A1.85,1.85 0 0 1 1.85,-6.05 C1.85,-4.3 0.6,-1.6 0.3,0 Z" transform="rotate(300)"/></g><g transform="translate(536.30,233.60)"><circle r="1.1"/><path d="M-0.3,0 C-0.6,-1.6 -1.85,-4.3 -1.85,-6.05 A1.85,1.85 0 0 1 1.85,-6.05 C1.85,-4.3 0.6,-1.6 0.3,0 Z" transform="rotate(0)"/><path d="M-0.3,0 C-0.6,-1.6 -1.85,-4.3 -1.85,-6.05 A1.85,1.85 0 0 1 1.85,-6.05 C1.85,-4.3 0.6,-1.6 0.3,0 Z" transform="rotate(60)"/><path d="M-0.3,0 C-0.6,-1.6 -1.85,-4.3 -1.85,-6.05 A1.85,1.85 0 0 1 1.85,-6.05 C1.85,-4.3 0.6,-1.6 0.3,0 Z" transform="rotate(120)"/><path d="M-0.3,0 C-0.6,-1.6 -1.85,-4.3 -1.85,-6.05 A1.85,1.85 0 0 1 1.85,-6.05 C1.85,-4.3 0.6,-1.6 0.3,0 Z" transform="rotate(180)"/><path d="M-0.3,0 C-0.6,-1.6 -1.85,-4.3 -1.85,-6.05 A1.85,1.85 0 0 1 1.85,-6.05 C1.85,-4.3 0.6,-1.6 0.3,0 Z" transform="rotate(240)"/><path d="M-0.3,0 C-0.6,-1.6 -1.85,-4.3 -1.85,-6.05 A1.85,1.85 0 0 1 1.85,-6.05 C1.85,-4.3 0.6,-1.6 0.3,0 Z" transform="rotate(300)"/></g><g transform="translate(1311.85,162.80)"><circle r="1.1"/><path d="M-0.3,0 C-0.6,-1.6 -1.85,-4.3 -1.85,-6.05 A1.85,1.85 0 0 1 1.85,-6.05 C1.85,-4.3 0.6,-1.6 0.3,0 Z" transform="rotate(0)"/><path d="M-0.3,0 C-0.6,-1.6 -1.85,-4.3 -1.85,-6.05 A1.85,1.85 0 0 1 1.85,-6.05 C1.85,-4.3 0.6,-1.6 0.3,0 Z" transform="rotate(60)"/><path d="M-0.3,0 C-0.6,-1.6 -1.85,-4.3 -1.85,-6.05 A1.85,1.85 0 0 1 1.85,-6.05 C1.85,-4.3 0.6,-1.6 0.3,0 Z" transform="rotate(120)"/><path d="M-0.3,0 C-0.6,-1.6 -1.85,-4.3 -1.85,-6.05 A1.85,1.85 0 0 1 1.85,-6.05 C1.85,-4.3 0.6,-1.6 0.3,0 Z" transform="rotate(180)"/><path d="M-0.3,0 C-0.6,-1.6 -1.85,-4.3 -1.85,-6.05 A1.85,1.85 0 0 1 1.85,-6.05 C1.85,-4.3 0.6,-1.6 0.3,0 Z" transform="rotate(240)"/><path d="M-0.3,0 C-0.6,-1.6 -1.85,-4.3 -1.85,-6.05 A1.85,1.85 0 0 1 1.85,-6.05 C1.85,-4.3 0.6,-1.6 0.3,0 Z" transform="rotate(300)"/></g><g transform="translate(1330.15,162.80)"><circle r="1.1"/><path d="M-0.3,0 C-0.6,-1.6 -1.85,-4.3 -1.85,-6.05 A1.85,1.85 0 0 1 1.85,-6.05 C1.85,-4.3 0.6,-1.6 0.3,0 Z" transform="rotate(0)"/><path d="M-0.3,0 C-0.6,-1.6 -1.85,-4.3 -1.85,-6.05 A1.85,1.85 0 0 1 1.85,-6.05 C1.85,-4.3 0.6,-1.6 0.3,0 Z" transform="rotate(60)"/><path d="M-0.3,0 C-0.6,-1.6 -1.85,-4.3 -1.85,-6.05 A1.85,1.85 0 0 1 1.85,-6.05 C1.85,-4.3 0.6,-1.6 0.3,0 Z" transform="rotate(120)"/><path d="M-0.3,0 C-0.6,-1.6 -1.85,-4.3 -1.85,-6.05 A1.85,1.85 0 0 1 1.85,-6.05 C1.85,-4.3 0.6,-1.6 0.3,0 Z" transform="rotate(180)"/><path d="M-0.3,0 C-0.6,-1.6 -1.85,-4.3 -1.85,-6.05 A1.85,1.85 0 0 1 1.85,-6.05 C1.85,-4.3 0.6,-1.6 0.3,0 Z" transform="rotate(240)"/><path d="M-0.3,0 C-0.6,-1.6 -1.85,-4.3 -1.85,-6.05 A1.85,1.85 0 0 1 1.85,-6.05 C1.85,-4.3 0.6,-1.6 0.3,0 Z" transform="rotate(300)"/></g><g transform="translate(518.15,1069.30)"><circle r="1.1"/><path d="M-0.3,0 C-0.6,-1.6 -1.85,-4.3 -1.85,-6.05 A1.85,1.85 0 0 1 1.85,-6.05 C1.85,-4.3 0.6,-1.6 0.3,0 Z" transform="rotate(0)"/><path d="M-0.3,0 C-0.6,-1.6 -1.85,-4.3 -1.85,-6.05 A1.85,1.85 0 0 1 1.85,-6.05 C1.85,-4.3 0.6,-1.6 0.3,0 Z" transform="rotate(60)"/><path d="M-0.3,0 C-0.6,-1.6 -1.85,-4.3 -1.85,-6.05 A1.85,1.85 0 0 1 1.85,-6.05 C1.85,-4.3 0.6,-1.6 0.3,0 Z" transform="rotate(120)"/><path d="M-0.3,0 C-0.6,-1.6 -1.85,-4.3 -1.85,-6.05 A1.85,1.85 0 0 1 1.85,-6.05 C1.85,-4.3 0.6,-1.6 0.3,0 Z" transform="rotate(180)"/><path d="M-0.3,0 C-0.6,-1.6 -1.85,-4.3 -1.85,-6.05 A1.85,1.85 0 0 1 1.85,-6.05 C1.85,-4.3 0.6,-1.6 0.3,0 Z" transform="rotate(240)"/><path d="M-0.3,0 C-0.6,-1.6 -1.85,-4.3 -1.85,-6.05 A1.85,1.85 0 0 1 1.85,-6.05 C1.85,-4.3 0.6,-1.6 0.3,0 Z" transform="rotate(300)"/></g><g transform="translate(621.10,853.30)"><circle r="1.1"/><path d="M-0.3,0 C-0.6,-1.6 -1.85,-4.3 -1.85,-6.05 A1.85,1.85 0 0 1 1.85,-6.05 C1.85,-4.3 0.6,-1.6 0.3,0 Z" transform="rotate(0)"/><path d="M-0.3,0 C-0.6,-1.6 -1.85,-4.3 -1.85,-6.05 A1.85,1.85 0 0 1 1.85,-6.05 C1.85,-4.3 0.6,-1.6 0.3,0 Z" transform="rotate(60)"/><path d="M-0.3,0 C-0.6,-1.6 -1.85,-4.3 -1.85,-6.05 A1.85,1.85 0 0 1 1.85,-6.05 C1.85,-4.3 0.6,-1.6 0.3,0 Z" transform="rotate(120)"/><path d="M-0.3,0 C-0.6,-1.6 -1.85,-4.3 -1.85,-6.05 A1.85,1.85 0 0 1 1.85,-6.05 C1.85,-4.3 0.6,-1.6 0.3,0 Z" transform="rotate(180)"/><path d="M-0.3,0 C-0.6,-1.6 -1.85,-4.3 -1.85,-6.05 A1.85,1.85 0 0 1 1.85,-6.05 C1.85,-4.3 0.6,-1.6 0.3,0 Z" transform="rotate(240)"/><path d="M-0.3,0 C-0.6,-1.6 -1.85,-4.3 -1.85,-6.05 A1.85,1.85 0 0 1 1.85,-6.05 C1.85,-4.3 0.6,-1.6 0.3,0 Z" transform="rotate(300)"/></g><g transform="translate(639.50,853.30)"><circle r="1.1"/><path d="M-0.3,0 C-0.6,-1.6 -1.85,-4.3 -1.85,-6.05 A1.85,1.85 0 0 1 1.85,-6.05 C1.85,-4.3 0.6,-1.6 0.3,0 Z" transform="rotate(0)"/><path d="M-0.3,0 C-0.6,-1.6 -1.85,-4.3 -1.85,-6.05 A1.85,1.85 0 0 1 1.85,-6.05 C1.85,-4.3 0.6,-1.6 0.3,0 Z" transform="rotate(60)"/><path d="M-0.3,0 C-0.6,-1.6 -1.85,-4.3 -1.85,-6.05 A1.85,1.85 0 0 1 1.85,-6.05 C1.85,-4.3 0.6,-1.6 0.3,0 Z" transform="rotate(120)"/><path d="M-0.3,0 C-0.6,-1.6 -1.85,-4.3 -1.85,-6.05 A1.85,1.85 0 0 1 1.85,-6.05 C1.85,-4.3 0.6,-1.6 0.3,0 Z" transform="rotate(180)"/><path d="M-0.3,0 C-0.6,-1.6 -1.85,-4.3 -1.85,-6.05 A1.85,1.85 0 0 1 1.85,-6.05 C1.85,-4.3 0.6,-1.6 0.3,0 Z" transform="rotate(240)"/><path d="M-0.3,0 C-0.6,-1.6 -1.85,-4.3 -1.85,-6.05 A1.85,1.85 0 0 1 1.85,-6.05 C1.85,-4.3 0.6,-1.6 0.3,0 Z" transform="rotate(300)"/></g><text transform="translate(27.30,1105.67) rotate(-90)" x="0" y="0" font-weight="bold" font-size="38.7" textLength="108.44" lengthAdjust="spacingAndGlyphs">Protein</text><text transform="translate(27.30,982.10) rotate(-90)" x="0" y="0" font-weight="bold" font-size="38.7" textLength="173.89" lengthAdjust="spacingAndGlyphs">abundance</text><text transform="translate(27.30,803.38) rotate(-90)" x="0" y="0" font-weight="bold" font-size="38.7" textLength="69.92" lengthAdjust="spacingAndGlyphs">(fold</text><text transform="translate(27.30,721.39) rotate(-90)" x="0" y="0" font-weight="bold" font-size="38.7" textLength="124.42" lengthAdjust="spacingAndGlyphs">changes</text><text transform="translate(27.30,589.63) rotate(-90)" x="0" y="0" font-weight="bold" font-size="38.7" textLength="76.08" lengthAdjust="spacingAndGlyphs">from</text><text transform="translate(27.30,502.51) rotate(-90)" x="0" y="0" font-weight="bold" font-size="38.7" textLength="126.24" lengthAdjust="spacingAndGlyphs">control;</text><text transform="translate(27.30,372.20) rotate(-90)" x="0" y="0" font-weight="bold" font-size="38.7" textLength="37.57" lengthAdjust="spacingAndGlyphs">24</text><text transform="translate(27.30,325.01) rotate(-90)" x="0" y="0" font-weight="bold" font-size="38.7" textLength="34.68" lengthAdjust="spacingAndGlyphs">h)</text></g>
</svg>
</body></html>
